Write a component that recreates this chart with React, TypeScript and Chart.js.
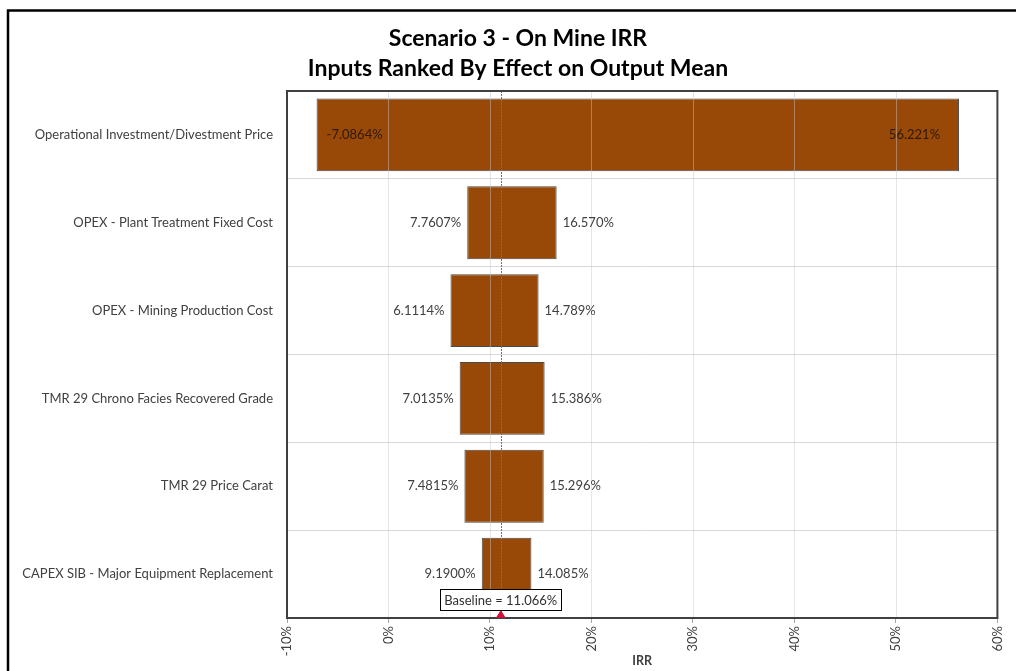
import { useEffect, useRef } from "react";
import { Chart, registerables } from "chart.js";

Chart.register(...registerables);

const titleLines = ["Scenario 3 - On Mine IRR", "Inputs Ranked By Effect on Output Mean"];
const categories = [
  "Operational Investment/Divestment Price",
  "OPEX - Plant Treatment Fixed Cost",
  "OPEX - Mining Production Cost",
  "TMR 29 Chrono Facies Recovered Grade",
  "TMR 29 Price Carat",
  "CAPEX SIB - Major Equipment Replacement",
];
const lowValues = [-7.0864, 7.7607, 6.1114, 7.0135, 7.4815, 9.19];
const highValues = [56.221, 16.57, 14.789, 15.386, 15.296, 14.085];
const baselineValue = 11.066;
const xMin = -10;
const xMax = 60;
const xStep = 10;
const axisTitle = "IRR";

const FONT = "Lato";
const fmt = (v: number) => v.toPrecision(5) + "%";

const overlay = {
  id: "overlay",
  beforeDraw(chart: any) {
    const ctx = chart.ctx;
    ctx.save();
    ctx.fillStyle = "#ffffff";
    ctx.fillRect(0, 0, chart.width, chart.height);
    ctx.strokeStyle = "#000000";
    ctx.lineWidth = 2.5;
    ctx.beginPath();
    ctx.moveTo(8, chart.height + 5);
    ctx.lineTo(8, 10.5);
    ctx.lineTo(chart.width + 5, 10.5);
    ctx.stroke();
    ctx.restore();
  },
  afterDatasetsDraw(chart: any) {
    const ctx = chart.ctx;
    const { top, bottom } = chart.chartArea;
    const x = chart.scales.x;
    const y = chart.scales.y;
    ctx.save();
    // vertical grid lines over bars
    ctx.strokeStyle = "rgba(200,200,200,0.45)";
    ctx.lineWidth = 1;
    for (let v = xMin; v <= xMax; v += xStep) {
      const px = Math.round(x.getPixelForValue(v)) + 0.5;
      ctx.beginPath();
      ctx.moveTo(px, top);
      ctx.lineTo(px, bottom);
      ctx.stroke();
    }
    // baseline dotted line
    const bx = x.getPixelForValue(baselineValue);
    ctx.strokeStyle = "#ee3b45";
    ctx.setLineDash([2, 1]);
    ctx.beginPath();
    ctx.moveTo(Math.round(bx) + 0.5, top);
    ctx.lineTo(Math.round(bx) + 0.5, bottom);
    ctx.stroke();
    ctx.setLineDash([]);
    // data labels
    ctx.font = `13px ${FONT}`;
    ctx.textBaseline = "middle";
    categories.forEach((_, i) => {
      const cy = y.getPixelForValue(i);
      const x0 = x.getPixelForValue(lowValues[i]);
      const x1 = x.getPixelForValue(highValues[i]);
      if (i === 0) {
        ctx.fillStyle = "#2e1a08";
        ctx.textAlign = "left";
        ctx.fillText(fmt(lowValues[i]), x0 + 10, cy);
        ctx.textAlign = "right";
        ctx.fillText(fmt(highValues[i]), x1 - 19, cy);
      } else {
        ctx.fillStyle = "#404040";
        ctx.textAlign = "right";
        ctx.fillText(fmt(lowValues[i]), x0 - 6, cy);
        ctx.textAlign = "left";
        ctx.fillText(fmt(highValues[i]), x1 + 6, cy);
      }
    });
    ctx.restore();
  },
  afterDraw(chart: any) {
    const ctx = chart.ctx;
    const { left, right, top, bottom } = chart.chartArea;
    const x = chart.scales.x;
    ctx.save();
    // plot frame
    ctx.strokeStyle = "#404040";
    ctx.lineWidth = 2;
    ctx.strokeRect(left, top, right - left, bottom - top);
    // baseline marker
    const bx = x.getPixelForValue(baselineValue);
    ctx.fillStyle = "#c8143c";
    ctx.beginPath();
    ctx.moveTo(bx, bottom - 8);
    ctx.lineTo(bx - 5, bottom);
    ctx.lineTo(bx + 5, bottom);
    ctx.closePath();
    ctx.fill();
    // baseline label box
    const label = "Baseline = " + baselineValue.toFixed(3) + "%";
    ctx.font = `13px ${FONT}`;
    const w = ctx.measureText(label).width + 8;
    const h = 21;
    const by = bottom - 8 - h;
    ctx.fillStyle = "#ffffff";
    ctx.fillRect(bx - w / 2, by, w, h);
    ctx.strokeStyle = "#000000";
    ctx.lineWidth = 1;
    ctx.strokeRect(Math.round(bx - w / 2) + 0.5, Math.round(by) + 0.5, Math.round(w), h);
    ctx.fillStyle = "#303030";
    ctx.textAlign = "center";
    ctx.textBaseline = "middle";
    ctx.fillText(label, bx, by + h / 2 + 1);
    // titles
    ctx.fillStyle = "#000000";
    ctx.font = `bold 23px ${FONT}`;
    ctx.fillText(titleLines[0], 518, 39);
    ctx.fillText(titleLines[1], 518, 69);
    ctx.restore();
  },
};

export default function App() {
  const ref = useRef<HTMLCanvasElement | null>(null);
  useEffect(() => {
    document.body.style.margin = "0";
    const chart = new Chart(ref.current as HTMLCanvasElement, {
      type: "bar",
      data: {
        labels: categories,
        datasets: [
          {
            data: categories.map((_, i) => [lowValues[i], highValues[i]]) as any,
            backgroundColor: "#984807",
            borderColor: "#4a4a4a",
            borderWidth: 1,
            borderSkipped: false,
            barPercentage: 1,
            categoryPercentage: 0.83,
          },
        ],
      },
      options: {
        indexAxis: "y",
        animation: false,
        responsive: false,
        maintainAspectRatio: false,
        layout: { padding: { top: 91, left: 0, right: 14, bottom: 0 } },
        plugins: {
          legend: { display: false },
          tooltip: { enabled: false },
          title: { display: false },
        },
        scales: {
          x: {
            type: "linear",
            min: xMin,
            max: xMax,
            ticks: {
              stepSize: xStep,
              minRotation: 90,
              maxRotation: 90,
              padding: 3,
              color: "#404040",
              font: { family: FONT, size: 13 },
              callback: (v: any) => v + "%",
            },
            grid: {
              drawOnChartArea: false,
              drawTicks: true,
              tickLength: 5,
              color: "#a6a6a6",
            },
            border: { display: false },
            title: {
              display: true,
              text: axisTitle,
              color: "#404040",
              font: { family: FONT, size: 12.5, weight: "bold" },
              padding: { top: 2, bottom: 3 },
            },
            afterFit: (s: any) => {
              s.height = 53;
            },
          },
          y: {
            type: "category",
            ticks: {
              padding: 14,
              color: "#404040",
              font: { family: FONT, size: 13 },
            },
            grid: {
              offset: true,
              drawTicks: false,
              color: "#d9d9d9",
            },
            border: { display: false },
            afterFit: (s: any) => {
              s.width = 287;
            },
          },
        },
      },
      plugins: [overlay],
    } as any);
    return () => chart.destroy();
  }, []);
  return (
    <div style={{ position: "fixed", left: 0, top: 0, width: 1016, height: 671, overflow: "hidden", background: "#fff" }}>
      <canvas ref={ref} width={1016} height={671} style={{ display: "block", width: 1016, height: 671 }} />
    </div>
  );
}
